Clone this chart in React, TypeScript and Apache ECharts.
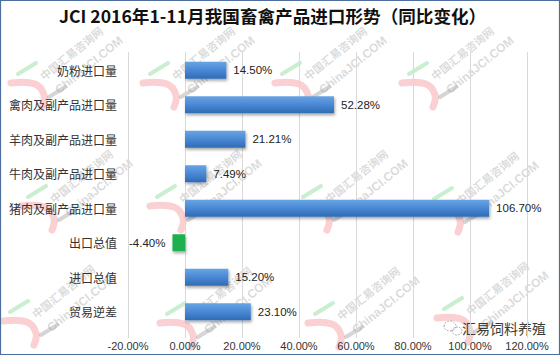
import React, { useEffect, useRef } from "react";
import * as echarts from "echarts";

const categories = [
  "奶粉进口量",
  "禽肉及副产品进口量",
  "羊肉及副产品进口量",
  "牛肉及副产品进口量",
  "猪肉及副产品进口量",
  "出口总值",
  "进口总值",
  "贸易逆差",
];
const values = [14.5, 52.28, 21.21, 7.49, 106.7, -4.4, 15.2, 23.1];
const axisMin = -20;
const axisMax = 120;
const axisStep = 20;
const titleText = "JCI 2016年1-11月我国畜禽产品进口形势（同比变化）";
const brandText = "汇易饲料养殖";
const wmCn = "中国汇易咨询网";
const wmEn = "ChinaJCI.COM";
const wmSpots: [number, number][] = [
  [29, 87], [161, 87], [293, 87], [420, 87],
  [39, 210], [168, 210], [314, 210], [445, 212],
  [21, 325], [178, 327], [326, 327], [455, 322],
];

const fmt = (v: number) => v.toFixed(2) + "%";

function watermark(x: number, y: number) {
  const rot = (39 * Math.PI) / 180;
  return {
    type: "group",
    x,
    y,
    silent: true,
    children: [
      {
        type: "polyline",
        shape: { points: [[-18, -4], [6, -3], [15, 8], [13, 20]], smooth: 0.4 },
        style: { stroke: "rgba(238,110,115,0.32)", lineWidth: 7, fill: "none", lineCap: "round" },
      },
      {
        type: "line",
        shape: { x1: -11, y1: -13, x2: 7, y2: -24 },
        style: { stroke: "rgba(80,200,100,0.3)", lineWidth: 4, lineCap: "round" },
      },
      {
        type: "line",
        shape: { x1: 20, y1: 10, x2: 36, y2: 0 },
        style: { stroke: "rgba(120,120,120,0.3)", lineWidth: 4, lineCap: "round" },
      },
      {
        type: "text",
        x: 42,
        y: -34,
        rotation: rot,
        style: {
          text: wmCn,
          fill: "rgba(150,150,150,0.35)",
          font: "bold 11px 'Noto Sans CJK SC'",
          align: "center",
          verticalAlign: "middle",
        },
      },
      {
        type: "text",
        x: 60,
        y: -22,
        rotation: rot,
        style: {
          text: wmEn,
          fill: "rgba(150,150,150,0.35)",
          font: "bold 12px 'Liberation Sans'",
          align: "center",
          verticalAlign: "middle",
        },
      },
    ],
  };
}

export default function App() {
  const ref = useRef<HTMLDivElement>(null);

  useEffect(() => {
    if (!ref.current) return;
    const chart = echarts.init(ref.current, null, { renderer: "svg" });
    const blue = new echarts.graphic.LinearGradient(0, 0, 0, 1, [
      { offset: 0, color: "#68a4e4" },
      { offset: 0.5, color: "#4a88d4" },
      { offset: 1, color: "#2f6bb5" },
    ]);
    const barData = values.map((v) => ({
      value: v,
      itemStyle: {
        color: v < 0 ? "#1cb050" : blue,
        shadowColor: "rgba(0,0,0,0.35)",
        shadowBlur: 3,
        shadowOffsetX: 1,
        shadowOffsetY: 2,
      },
      label: { position: v < 0 ? "left" : "right" },
    }));

    chart.setOption({
      animation: false,
      backgroundColor: "#ffffff",
      textStyle: { fontFamily: "'Noto Sans CJK SC', sans-serif" },
      title: {
        text: titleText,
        left: 54,
        top: 2,
        textStyle: {
          fontSize: 17.6,
          fontWeight: "bold",
          color: "#111111",
          fontFamily: "'Noto Sans CJK SC', sans-serif",
        },
      },
      grid: [
        { left: 128, right: 33, top: 52, bottom: 17 },
        { left: 128, right: 33, top: 53, bottom: 26 },
      ],
      xAxis: [
        {
          gridIndex: 0,
          type: "value",
          min: axisMin,
          max: axisMax,
          interval: axisStep,
          axisLine: { show: false },
          axisTick: { show: false },
          splitLine: { show: true, lineStyle: { color: "#d9d9d9", width: 1 } },
          axisLabel: {
            margin: 2,
            formatter: fmt,
            fontSize: 11,
            color: "#333333",
            fontFamily: "'Liberation Sans', sans-serif",
          },
        },
        {
          gridIndex: 1,
          type: "value",
          min: axisMin,
          max: axisMax,
          interval: axisStep,
          show: false,
        },
      ],
      yAxis: [
        { gridIndex: 0, type: "value", show: false, min: 0, max: 1 },
        {
          gridIndex: 1,
          type: "category",
          data: categories,
          inverse: true,
          axisLine: { show: false },
          axisTick: { show: false },
          splitLine: { show: false },
          axisLabel: {
            margin: 11,
            fontSize: 12,
            color: "#333333",
            fontFamily: "'Noto Sans CJK SC', sans-serif",
          },
        },
      ],
      series: [
        {
          type: "bar",
          xAxisIndex: 1,
          yAxisIndex: 1,
          data: barData,
          barWidth: 17,
          label: {
            show: true,
            distance: 7,
            formatter: (p: any) => fmt(p.value),
            fontSize: 11.5,
            color: "#222222",
            fontFamily: "'Liberation Sans', sans-serif",
          },
        },
      ],
      graphic: [
        ...wmSpots.map(([x, y]) => watermark(x, y)),
        {
          type: "group",
          x: 450,
          y: 328,
          silent: true,
          children: [
            {
              type: "ellipse",
              shape: { cx: 0, cy: -2, rx: 6, ry: 5 },
              style: { fill: "none", stroke: "#8a8a8a", lineWidth: 0.8, lineDash: [1.5, 1.5] },
            },
            {
              type: "ellipse",
              shape: { cx: 7, cy: 3, rx: 5, ry: 4 },
              style: { fill: "none", stroke: "#8a8a8a", lineWidth: 0.8, lineDash: [1.5, 1.5] },
            },
          ],
        },
        {
          type: "text",
          x: 462,
          y: 328,
          silent: true,
          style: {
            text: brandText,
            fill: "#3a3a3a",
            font: "14px 'Noto Sans CJK SC'",
            verticalAlign: "middle",
          },
        },
        {
          type: "rect",
          silent: true,
          shape: { x: 0.5, y: 0.5, width: 559, height: 354 },
          style: { fill: "none", stroke: "#4d6e9e", lineWidth: 1.2 },
        },
      ],
    });
    return () => chart.dispose();
  }, []);

  return (
    <div
      ref={ref}
      style={{ position: "fixed", left: 0, top: 0, width: 560, height: 355 }}
    />
  );
}
